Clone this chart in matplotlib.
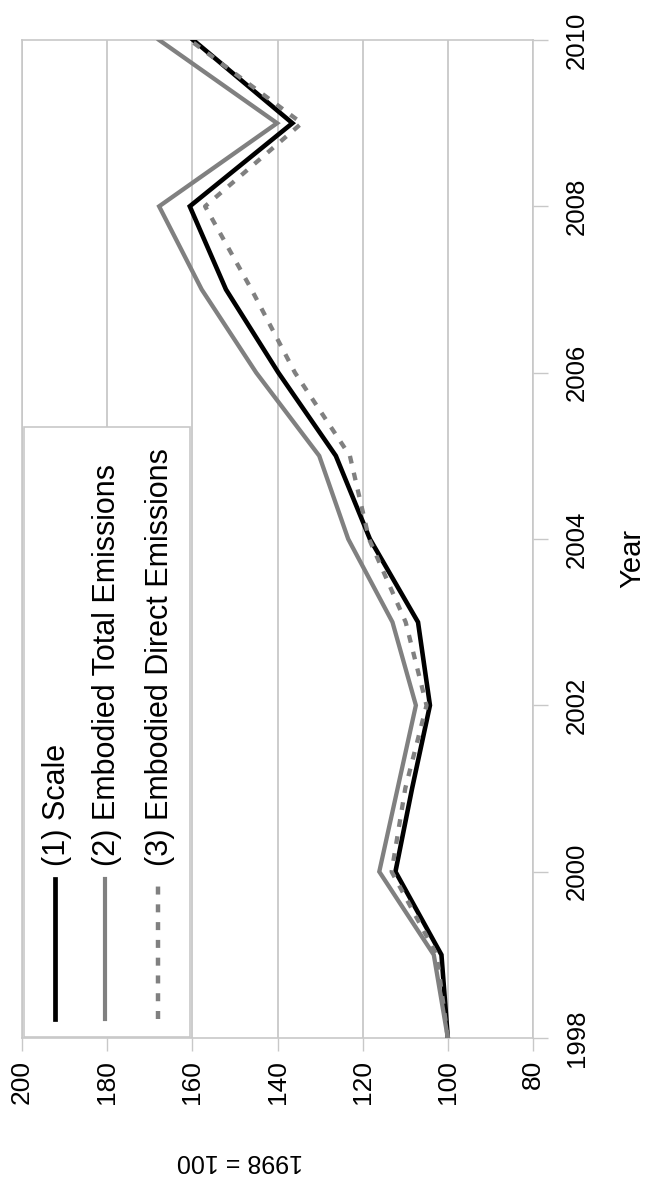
import matplotlib
matplotlib.use("Agg")
import matplotlib.pyplot as plt
from matplotlib.lines import Line2D
from matplotlib.patches import Rectangle

plt.rcParams['font.family'] = ['Liberation Sans', 'DejaVu Sans']

years = [1998, 1999, 2000, 2001, 2002, 2003, 2004, 2005, 2006, 2007, 2008, 2009, 2010]
scale = [100, 101.5, 112.3, 108.4, 104.2, 107.0, 118.3, 126.3, 139.8, 152.1, 160.6, 136.5, 159.8]
total = [100, 103.3, 116.1, 111.8, 107.5, 113.0, 123.4, 130.2, 145.0, 157.8, 167.8, 140.1, 167.8]
direct = [100, 102.6, 113.2, 110.0, 105.0, 109.9, 118.5, 123.0, 135.9, 146.1, 157.0, 134.3, 160.6]
series_names = ["(1) Scale", "(2) Embodied Total Emissions", "(3) Embodied Direct Emissions"]
value_ticks = [80, 100, 120, 140, 160, 180, 200]
year_ticks = [1998, 2000, 2002, 2004, 2006, 2008, 2010]

W, H = 647, 1184
fig = plt.figure(figsize=(W / 100, H / 100), dpi=100)

def fx(px):
    return px / W

def fy(py):
    return 1 - py / H

left, right, top, bottom = 22, 533, 40, 1038
ax = fig.add_axes([fx(left), fy(bottom), (right - left) / W, (bottom - top) / H])
ax.set_xlim(200, 80)
ax.set_ylim(1998, 2010)

grid_c = '#c8c8c8'
for sp in ax.spines.values():
    sp.set_color(grid_c)
    sp.set_linewidth(1.2)

ax.set_xticks(value_ticks)
ax.set_xticklabels([str(v) for v in value_ticks], rotation=90, fontsize=19)
ax.tick_params(axis='x', direction='out', length=9, width=1, color=grid_c, pad=7)
ax.xaxis.grid(True, color=grid_c, linewidth=1.3)
ax.set_axisbelow(True)

ax.yaxis.tick_right()
ax.set_yticks(year_ticks)
ax.set_yticklabels([str(y) for y in year_ticks], rotation=90, fontsize=18.5)
for lab in ax.get_yticklabels():
    lab.set_va('center')
ax.tick_params(axis='y', direction='out', length=11, width=1, color=grid_c, pad=12)

ax.plot(scale, years, color='black', lw=3.3, solid_joinstyle='miter', zorder=3)
ax.plot(total, years, color='#808080', lw=3.1, solid_joinstyle='miter', zorder=4)
ax.plot(direct, years, color='#808080', lw=3.1, dashes=(1.8, 2.2), zorder=5)

# legend (rotated)
leg = Rectangle((fx(24), fy(1037)), (190 - 24) / W, (1037 - 427) / H,
                transform=fig.transFigure, facecolor='white', edgecolor=grid_c,
                lw=1.2, zorder=10)
fig.patches.append(leg)
handle_x = [55, 105, 158]
styles = [dict(color='black', lw=3.4), dict(color='#808080', lw=3.0),
          dict(color='#808080', lw=3.2, dashes=(1.8, 2.2))]
for hx, st, name in zip(handle_x, styles, series_names):
    ln = Line2D([fx(hx), fx(hx)], [fy(1019), fy(879)], transform=fig.transFigure,
                zorder=11, **st)
    fig.lines.append(ln)
    fig.text(fx(hx + 2), fy(866), name, rotation=90, ha='center', va='bottom',
             fontsize=22, zorder=12)

fig.text(fx(632), fy(558), "Year", rotation=90, ha='center', va='center', fontsize=21)
fig.text(fx(240), fy(1161), "1998 = 100", rotation=180, ha='center', va='center', fontsize=18)

fig.savefig("out.png", dpi=100, facecolor='white')
